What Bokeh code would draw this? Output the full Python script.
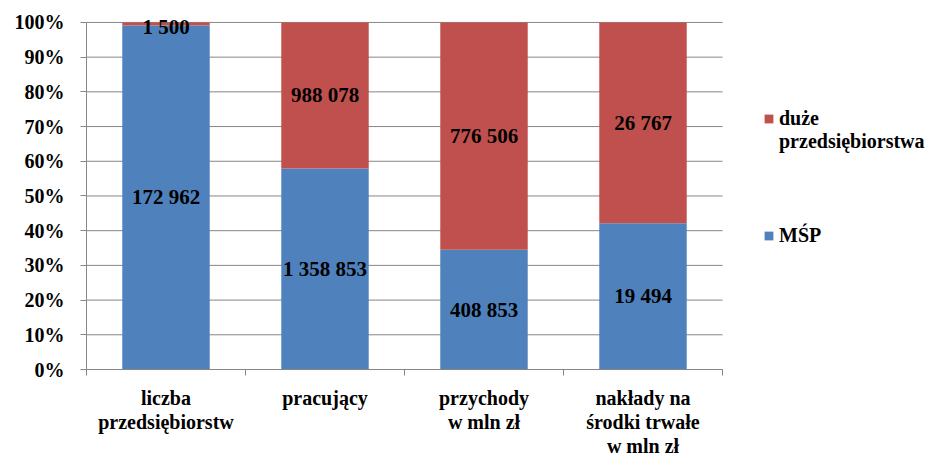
from bokeh.plotting import figure
from bokeh.models import (ColumnDataSource, Range1d, FixedTicker, NumeralTickFormatter,
                          Legend, LegendItem)
from bokeh.core.properties import value
from bokeh.embed import file_html
from bokeh.resources import INLINE

categories = ["liczba\nprzedsiębiorstw", "pracujący", "przychody\nw mln zł",
              "nakłady na\nśrodki trwałe\nw mln zł"]
msp = [172962, 1358853, 408853, 19494]
duze = [1500, 988078, 776506, 26767]
msp_labels = ["172 962", "1 358 853", "408 853", "19 494"]
duze_labels = ["1 500", "988 078", "776 506", "26 767"]
y_ticks = [0.0, 0.1, 0.2, 0.3, 0.4, 0.5, 0.6, 0.7, 0.8, 0.9, 1.0]

BLUE = "#4F81BD"
RED = "#C0504D"
GRID = "#868686"
FONT = "Liberation Serif"

n = len(categories)
xs = [i + 0.5 for i in range(n)]
tot = [a + b for a, b in zip(msp, duze)]
msp_share = [a / t for a, t in zip(msp, tot)]
duze_share = [b / t for b, t in zip(duze, tot)]

# layout (pixels): plot area 86..722 wide for the bars, legend area to the right
W, H = 950, 459
LEFT, TOP, BOTTOM = 86, 15, 87
BAR_AREA = 636
frame_w = W - LEFT
x_end = n * frame_w / BAR_AREA
y_end = 1.02

src = ColumnDataSource(dict(
    x=xs, msp=msp_share, duze=duze_share,
    msp_y=[s / 2 for s in msp_share],
    duze_y=[min(m + d / 2, 0.987) for m, d in zip(msp_share, duze_share)],
    msp_lab=msp_labels, duze_lab=duze_labels,
))
grid_src = ColumnDataSource(dict(x0=[0] * len(y_ticks), x1=[n] * len(y_ticks),
                                 y=y_ticks))

p = figure(width=W, height=H, output_backend="svg", toolbar_location=None,
           x_range=Range1d(0, x_end), y_range=Range1d(0, y_end),
           min_border_left=LEFT, min_border_right=0, min_border_top=TOP,
           min_border_bottom=BOTTOM, outline_line_color=None)

p.xgrid.grid_line_color = None
p.ygrid.grid_line_color = None
p.segment(x0="x0", x1="x1", y0="y", y1="y", source=grid_src,
          line_color=GRID, line_width=1)

rs = p.vbar_stack(["msp", "duze"], x="x", width=0.55, color=[BLUE, RED],
                  line_color=None, source=src)

for ycol, tcol in (("msp_y", "msp_lab"), ("duze_y", "duze_lab")):
    p.text(x="x", y=ycol, text=tcol, source=src, text_align="center",
           text_baseline="middle", text_font=value(FONT), text_font_style="bold",
           text_font_size="21px", text_color="black")

# axes
yax = p.yaxis[0]
yax.ticker = FixedTicker(ticks=y_ticks)
yax.bounds = (0, 1)
yax.formatter = NumeralTickFormatter(format="0%")
yax.axis_line_color = GRID
yax.major_tick_line_color = GRID
yax.major_tick_out = 6
yax.major_tick_in = 0
yax.minor_tick_line_color = None
yax.major_label_standoff = 16
yax.major_label_text_font = FONT
yax.major_label_text_font_style = "bold"
yax.major_label_text_font_size = "20px"
yax.major_label_text_color = "black"

xax = p.xaxis[0]
xax.ticker = FixedTicker(ticks=xs, minor_ticks=[float(i) for i in range(n + 1)])
xax.bounds = (0, n)
xax.major_label_overrides = {x: c for x, c in zip(xs, categories)}
xax.axis_line_color = GRID
xax.major_tick_line_color = None
xax.minor_tick_line_color = GRID
xax.minor_tick_out = 6
xax.minor_tick_in = 0
xax.major_label_standoff = 11
xax.major_label_text_font = FONT
xax.major_label_text_font_style = "bold"
xax.major_label_text_font_size = "20px"
xax.major_label_text_line_height = 1.1
xax.major_label_text_color = "black"

# legend
dummy = p.vbar(x=[], top=[], width=0.1, fill_alpha=0, line_alpha=0)
common = dict(border_line_color=None, background_fill_alpha=0, padding=0, margin=0,
              glyph_width=11, glyph_height=11, label_standoff=5, spacing=0,
              label_height=22, label_text_font=FONT, label_text_font_style="bold",
              label_text_font_size="20px", label_text_color="black")
leg1 = Legend(items=[LegendItem(label="duże", renderers=[rs[1]]),
                     LegendItem(label="przedsiębiorstwa", renderers=[dummy])],
              location=(677, 216), **common)
leg2 = Legend(items=[LegendItem(label="MŚP", renderers=[rs[0]])],
              location=(677, 122), **common)
p.add_layout(leg1)
p.add_layout(leg2)

open("out.html", "w").write(file_html(p, INLINE))
